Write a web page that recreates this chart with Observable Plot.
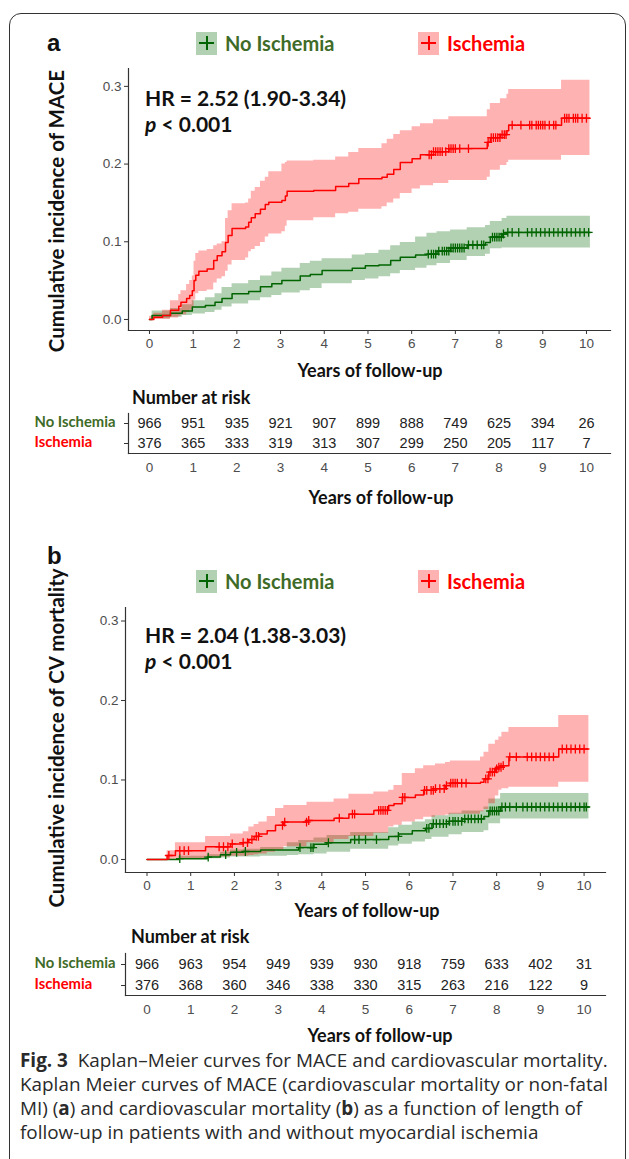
<!DOCTYPE html>
<html>
<head>
<meta charset="utf-8">
<script src="https://cdn.jsdelivr.net/npm/d3@7"></script>
<script src="https://cdn.jsdelivr.net/npm/@observablehq/plot@0.6"></script>
<style>
  html, body { margin: 0; padding: 0; background: #fff; }
  body { width: 629px; height: 1159px; position: relative; overflow: hidden; font-family: "Liberation Sans", Arial, sans-serif; }
  .frame { position: absolute; left: 9px; top: 13px; width: 617px; height: 1200px; border: 1.4px solid #333; border-radius: 12px; box-sizing: border-box; }
  .panel { position: absolute; font: 700 24px "Liberation Sans", Arial, sans-serif; color: #111; transform: translateY(-50%); }
  .ylab { position: absolute; font: 700 20.5px Lato, "Open Sans", sans-serif; color: #111; transform: translate(-50%, -50%) rotate(-90deg); white-space: nowrap; }
  .xlab { position: absolute; font: 700 18px Lato, "Open Sans", sans-serif; color: #111; transform: translate(-50%, -50%); white-space: nowrap; }
  .leg { position: absolute; transform: translateY(-50%); display: flex; align-items: center; font: 700 20px Lato, "Open Sans", sans-serif; white-space: nowrap; }
  .leg .key { width: 21px; height: 23px; position: relative; margin-right: 8px; }
  .hr { position: absolute; font: 700 21px Lato, "Open Sans", sans-serif; color: #111; transform: translateY(-50%); white-space: nowrap; }
  .risk { position: absolute; font: 700 18px Lato, "Open Sans", sans-serif; color: #111; transform: translateY(-50%); white-space: nowrap; }
  .caption { position: absolute; left: 20px; font: 400 18.9px "Open Sans", "Noto Sans", sans-serif; color: #2a2a2a; line-height: 22px; white-space: nowrap; transform: translateY(-50%); }
  svg { position: absolute; left: 0; }
</style>
</head>
<body>
<div class="frame"></div>
<div id="root"></div>
<script>
// ---------------- DATA ----------------
const groups = ["No Ischemia", "Ischemia"];
const groupColors = ["#006400", "#ff0000"];
const groupTextColors = ["#3f6b28", "#ff0000"];
const xTicks = [0, 1, 2, 3, 4, 5, 6, 7, 8, 9, 10];
const yTicks = [0, 0.1, 0.2, 0.3];

// Panel a: MACE
const maceIschTime = [0, 0.1, 0.3, 0.48, 0.67, 0.72, 0.85, 0.92, 0.98, 1.02, 1.06, 1.13, 1.32, 1.47, 1.55, 1.66, 1.74, 1.80, 1.89, 2.2, 2.27, 2.33, 2.42, 2.54, 2.65, 2.73, 3.03, 3.11, 3.15, 3.76, 4.26, 4.56, 4.79, 5.32, 5.44, 5.59, 5.74, 6.01, 6.2, 6.5, 6.85, 7.73, 7.8, 8.03, 8.18, 8.22, 9.43, 10.08];
const maceIschEst  = [0, 0.003, 0.005, 0.012, 0.017, 0.022, 0.027, 0.031, 0.037, 0.050, 0.057, 0.062, 0.065, 0.076, 0.082, 0.087, 0.099, 0.108, 0.117, 0.119, 0.125, 0.131, 0.136, 0.142, 0.148, 0.151, 0.153, 0.159, 0.165, 0.166, 0.171, 0.175, 0.181, 0.183, 0.187, 0.193, 0.202, 0.207, 0.212, 0.216, 0.220, 0.228, 0.234, 0.238, 0.243, 0.250, 0.259, 0.259];
const maceIschLow  = [0, 0, 0, 0.002, 0.004, 0.006, 0.009, 0.012, 0.015, 0.025, 0.033, 0.036, 0.038, 0.047, 0.052, 0.055, 0.062, 0.070, 0.076, 0.079, 0.087, 0.090, 0.094, 0.099, 0.106, 0.110, 0.113, 0.120, 0.127, 0.131, 0.136, 0.138, 0.142, 0.145, 0.150, 0.155, 0.162, 0.168, 0.172, 0.175, 0.179, 0.183, 0.192, 0.198, 0.202, 0.205, 0.211, 0.211];
const maceIschHigh = [0.004, 0.008, 0.012, 0.024, 0.032, 0.037, 0.045, 0.050, 0.056, 0.075, 0.085, 0.088, 0.090, 0.095, 0.097, 0.100, 0.130, 0.140, 0.149, 0.150, 0.155, 0.165, 0.170, 0.178, 0.183, 0.190, 0.200, 0.202, 0.204, 0.205, 0.209, 0.215, 0.220, 0.226, 0.232, 0.238, 0.243, 0.248, 0.252, 0.257, 0.261, 0.270, 0.278, 0.284, 0.290, 0.296, 0.308, 0.308];
const maceIschCens = [6.4, 6.45, 6.5, 6.55, 6.6, 6.65, 6.7, 6.78, 6.85, 6.9, 6.95, 7.0, 7.1, 7.3, 7.75, 7.82, 7.87, 7.92, 7.97, 8.02, 8.07, 8.12, 8.16, 8.3, 8.5, 8.7, 8.75, 8.85, 8.9, 8.95, 9.0, 9.05, 9.15, 9.25, 9.3, 9.5, 9.55, 9.6, 9.7, 9.75, 9.8, 9.9, 10.0];

const maceNoTime = [0, 0.06, 0.48, 0.75, 0.98, 1.28, 1.5, 1.66, 1.89, 2.27, 2.54, 2.8, 3.03, 3.45, 3.68, 3.95, 4.64, 4.94, 5.25, 5.52, 5.74, 6.09, 6.35, 6.58, 6.89, 7.27, 7.69, 7.8, 8.07, 8.18, 10.09];
const maceNoEst  = [0, 0.005, 0.008, 0.011, 0.016, 0.018, 0.022, 0.027, 0.033, 0.036, 0.042, 0.046, 0.050, 0.056, 0.058, 0.063, 0.066, 0.069, 0.070, 0.076, 0.080, 0.083, 0.084, 0.088, 0.092, 0.096, 0.099, 0.106, 0.110, 0.112, 0.112];
const maceNoLow  = [0, 0.001, 0.003, 0.005, 0.007, 0.009, 0.012, 0.016, 0.020, 0.024, 0.028, 0.031, 0.034, 0.037, 0.040, 0.046, 0.050, 0.052, 0.055, 0.059, 0.063, 0.066, 0.069, 0.072, 0.076, 0.081, 0.084, 0.091, 0.092, 0.092, 0.092];
const maceNoHigh = [0, 0.011, 0.014, 0.019, 0.024, 0.028, 0.033, 0.041, 0.046, 0.050, 0.056, 0.061, 0.066, 0.072, 0.075, 0.078, 0.083, 0.085, 0.089, 0.095, 0.099, 0.106, 0.111, 0.113, 0.115, 0.118, 0.121, 0.126, 0.130, 0.133, 0.133];
const maceNoCens = [6.38, 6.45, 6.5, 6.55, 6.62, 6.7, 6.75, 6.8, 6.85, 6.9, 6.95, 7.0, 7.05, 7.1, 7.15, 7.2, 7.3, 7.4, 7.5, 7.6, 7.65, 7.85, 7.9, 7.95, 8.0, 8.05, 8.1, 8.2, 8.3, 8.45, 8.65, 8.75, 8.85, 8.95, 9.05, 9.15, 9.25, 9.35, 9.45, 9.55, 9.65, 9.75, 9.85, 9.95, 10.05];

// Panel b: CV mortality
const cvIschTime = [0, 0.46, 0.65, 1.34, 1.91, 2.2, 2.33, 2.45, 2.56, 2.75, 2.94, 3.13, 3.66, 4.28, 4.62, 5.19, 5.53, 5.65, 5.84, 6.14, 6.33, 6.6, 6.83, 6.94, 7.63, 7.71, 7.82, 7.97, 8.05, 8.12, 8.28, 9.42, 10.11];
const cvIschEst  = [0, 0.005, 0.011, 0.016, 0.0195, 0.0212, 0.025, 0.029, 0.032, 0.036, 0.043, 0.047, 0.049, 0.052, 0.057, 0.0617, 0.068, 0.070, 0.078, 0.081, 0.087, 0.089, 0.093, 0.096, 0.097, 0.1015, 0.110, 0.114, 0.116, 0.118, 0.129, 0.139, 0.139];
const cvIschLow  = [0, 0, 0.001, 0.003, 0.004, 0.004, 0.005, 0.006, 0.007, 0.009, 0.012, 0.016, 0.021, 0.025, 0.029, 0.033, 0.041, 0.043, 0.047, 0.050, 0.053, 0.055, 0.056, 0.057, 0.060, 0.063, 0.070, 0.080, 0.087, 0.089, 0.091, 0.097, 0.097];
const cvIschHigh = [0, 0.011, 0.021, 0.029, 0.032, 0.035, 0.041, 0.044, 0.047, 0.054, 0.064, 0.068, 0.072, 0.076, 0.082, 0.085, 0.087, 0.093, 0.108, 0.114, 0.118, 0.120, 0.122, 0.124, 0.129, 0.135, 0.145, 0.150, 0.154, 0.160, 0.166, 0.181, 0.181];
const cvIschCens = [0.5, 0.75, 0.85, 0.95, 1.65, 1.75, 1.85, 1.95, 2.2, 2.3, 2.4, 2.5, 2.55, 3.1, 3.15, 3.65, 3.7, 4.4, 4.7, 4.75, 5.3, 5.35, 5.4, 5.45, 5.5, 5.85, 5.9, 6.35, 6.4, 6.5, 6.55, 6.6, 6.7, 6.8, 6.85, 6.95, 7.0, 7.05, 7.1, 7.2, 7.3, 7.75, 7.8, 7.85, 7.9, 7.95, 8.0, 8.05, 8.1, 8.15, 8.3, 8.45, 8.7, 8.8, 8.9, 9.0, 9.1, 9.2, 9.3, 9.5, 9.6, 9.7, 9.8, 9.9, 10.0];

const cvNoTime = [0, 0.73, 1.38, 1.68, 1.91, 2.2, 2.6, 3.21, 3.47, 3.82, 4.12, 4.66, 5.53, 5.76, 6.07, 6.37, 6.52, 6.91, 7.21, 7.71, 7.82, 8.09, 10.11];
const cvNoEst  = [0, 0.001, 0.003, 0.006, 0.009, 0.010, 0.012, 0.012, 0.015, 0.019, 0.021, 0.025, 0.029, 0.032, 0.036, 0.039, 0.045, 0.048, 0.051, 0.054, 0.061, 0.066, 0.066];
const cvNoLow  = [0, 0, 0.001, 0.002, 0.003, 0.003, 0.004, 0.005, 0.006, 0.007, 0.009, 0.013, 0.017, 0.019, 0.022, 0.025, 0.028, 0.031, 0.034, 0.036, 0.045, 0.051, 0.051];
const cvNoHigh = [0, 0.004, 0.006, 0.009, 0.012, 0.013, 0.015, 0.021, 0.024, 0.027, 0.030, 0.034, 0.040, 0.043, 0.047, 0.050, 0.055, 0.058, 0.061, 0.066, 0.076, 0.083, 0.083];
const cvNoCens = [0.75, 1.4, 1.8, 2.05, 2.25, 3.5, 3.75, 3.8, 4.15, 4.75, 4.85, 5.0, 5.25, 5.75, 6.4, 6.45, 6.55, 6.62, 6.7, 6.78, 6.85, 6.92, 7.0, 7.05, 7.12, 7.2, 7.27, 7.35, 7.42, 7.5, 7.58, 7.65, 7.85, 7.9, 7.95, 8.0, 8.05, 8.12, 8.2, 8.3, 8.45, 8.6, 8.7, 8.8, 8.9, 9.0, 9.1, 9.2, 9.3, 9.4, 9.5, 9.6, 9.7, 9.8, 9.9, 10.0, 10.05];

// Number at risk
const riskYears = [0, 1, 2, 3, 4, 5, 6, 7, 8, 9, 10];
const maceRiskNo   = [966, 951, 935, 921, 907, 899, 888, 749, 625, 394, 26];
const maceRiskIsch = [376, 365, 333, 319, 313, 307, 299, 250, 205, 117, 7];
const cvRiskNo     = [966, 963, 954, 949, 939, 930, 918, 759, 633, 402, 31];
const cvRiskIsch   = [376, 368, 360, 346, 338, 330, 315, 263, 216, 122, 9];

// Caption lines
const captionLines = [
  "<b>Fig. 3</b>&nbsp; Kaplan–Meier curves for MACE and cardiovascular mortality.",
  "Kaplan Meier curves of MACE (cardiovascular mortality or non-fatal",
  "MI) (<b>a</b>) and cardiovascular mortality (<b>b</b>) as a function of length of",
  "follow-up in patients with and without myocardial ischemia"
];

// ---------------- HELPERS ----------------
const root = document.getElementById("root");
function el(cls, html, styles) {
  const d = document.createElement("div");
  d.className = cls;
  d.innerHTML = html;
  Object.assign(d.style, styles || {});
  document.body.appendChild(d);
  return d;
}
const plusSymbol = {
  draw(ctx, size) {
    const r = Math.sqrt(size / Math.PI);
    ctx.moveTo(-r, 0); ctx.lineTo(r, 0);
    ctx.moveTo(0, -r * 1.1); ctx.lineTo(0, r * 1.1);
  }
};
function rows(time, est, lo, hi) {
  return time.map((t, i) => ({t, est: est[i], lo: lo[i], hi: hi[i]}));
}
function censRows(cens, time, est) {
  return cens.map(t => ({t, est: est[Math.max(0, d3.bisectRight(time, t) - 1)]}));
}
const tickFont = {fontSize: 13.5, fontFamily: "'Liberation Sans', Arial, sans-serif"};

function kmPlot(cfg) {
  const noData = rows(...cfg.no), ischData = rows(...cfg.isch);
  const noC = censRows(cfg.noCens, cfg.no[0], cfg.no[1]);
  const ischC = censRows(cfg.ischCens, cfg.isch[0], cfg.isch[1]);
  const svg = Plot.plot({
    width: 629, height: cfg.height,
    marginLeft: cfg.left, marginRight: 629 - cfg.right, marginTop: cfg.marginTop, marginBottom: 30,
    style: {background: "transparent", color: "#4d4d4d", fontFamily: tickFont.fontFamily, fontSize: "13.5px"},
    x: {domain: cfg.xDomain, label: null},
    y: {domain: cfg.yDomain, label: null},
    marks: [
      Plot.areaY(noData, {x: "t", y1: "lo", y2: "hi", curve: "step-after", fill: groupColors[0], fillOpacity: 0.3}),
      Plot.areaY(ischData, {x: "t", y1: "lo", y2: "hi", curve: "step-after", fill: groupColors[1], fillOpacity: 0.3}),
      Plot.line(noData, {x: "t", y: "est", curve: "step-after", stroke: groupColors[0], strokeWidth: 1.5}),
      Plot.dot(noC, {x: "t", y: "est", symbol: plusSymbol, r: 4, stroke: groupColors[0], strokeWidth: 1.3, fill: "none"}),
      Plot.line(ischData, {x: "t", y: "est", curve: "step-after", stroke: groupColors[1], strokeWidth: 1.5}),
      Plot.dot(ischC, {x: "t", y: "est", symbol: plusSymbol, r: 4, stroke: groupColors[1], strokeWidth: 1.3, fill: "none"}),
      Plot.axisX({ticks: xTicks, tickFormat: d => String(d), tickSize: 4, tickPadding: 4, stroke: "#333", fill: "#4d4d4d", ...tickFont}),
      Plot.axisY({ticks: yTicks, tickFormat: d3.format(".1f"), tickSize: 4, tickPadding: 3, stroke: "#333", fill: "#4d4d4d", ...tickFont}),
      Plot.frame({anchor: "left", stroke: "#333", strokeWidth: 1.2}),
      Plot.frame({anchor: "bottom", stroke: "#333", strokeWidth: 1.2})
    ]
  });
  svg.style.top = cfg.top + "px";
  root.appendChild(svg);
}

function riskPlot(cfg) {
  const data = [];
  riskYears.forEach((yr, i) => {
    data.push({t: yr, g: groups[0], n: cfg.no[i]});
    data.push({t: yr, g: groups[1], n: cfg.isch[i]});
  });
  const svg = Plot.plot({
    width: 629, height: cfg.height,
    marginLeft: cfg.left, marginRight: 629 - cfg.right, marginTop: cfg.marginTop, marginBottom: 28,
    style: {background: "transparent", color: "#4d4d4d", fontFamily: tickFont.fontFamily, fontSize: "13.5px", overflow: "visible"},
    x: {domain: cfg.xDomain, label: null},
    y: {type: "point", domain: groups, label: null, padding: 0.5},
    marks: [
      Plot.text(data, {x: "t", y: "g", text: "n", fill: "#222", fontSize: 14.5, fontFamily: "'Liberation Sans', Arial, sans-serif"}),
      Plot.text(groups, {y: d => d, text: d => d, frameAnchor: "left", textAnchor: "start", dx: 34 - cfg.left, dy: -1,
        fill: d => groupTextColors[groups.indexOf(d)], fontSize: 14.8, fontWeight: 700, fontFamily: "Lato, 'Open Sans', sans-serif"}),
      Plot.axisX({ticks: xTicks, tickFormat: d => String(d), tickSize: 0, tickPadding: 9, fill: "#4d4d4d", ...tickFont}),
      Plot.axisY({ticks: groups, tickFormat: () => "", tickSize: 4, stroke: "#333"}),
      Plot.frame({anchor: "left", stroke: "#333", strokeWidth: 1.2}),
      Plot.frame({anchor: "bottom", stroke: "#333", strokeWidth: 1.2})
    ]
  });
  svg.style.top = cfg.top + "px";
  root.appendChild(svg);
}

function legend(y) {
  [{x: 196, i: 0}, {x: 418, i: 1}].forEach(({x, i}) => {
    const c = groupColors[i];
    const fill = i === 0 ? "rgba(0,100,0,0.3)" : "rgba(255,0,0,0.3)";
    el("leg", `<div class="key" style="background:${fill}">
        <div style="position:absolute;left:3px;right:3px;top:10px;height:2px;background:${c}"></div>
        <div style="position:absolute;left:10px;width:2px;top:4px;bottom:5px;background:${c}"></div>
      </div><span style="color:${groupTextColors[i]}">${groups[i]}</span>`, {left: x + "px", top: y + "px"});
  });
}

// ---------------- PANEL A ----------------
el("panel", "a", {left: "47px", top: "43px"});
legend(43);
el("ylab", "Cumulative incidence of MACE", {left: "56px", top: "211px"});
el("hr", "HR = 2.52 (1.90-3.34)", {left: "145px", top: "97px"});
el("hr", "<i>p</i> &lt; 0.001", {left: "145px", top: "123px"});
kmPlot({
  top: 60, height: 300, marginTop: 8, left: 128, right: 610,
  xDomain: [-0.48, 10.55], yDomain: [-0.0142, 0.323],
  no: [maceNoTime, maceNoEst, maceNoLow, maceNoHigh],
  isch: [maceIschTime, maceIschEst, maceIschLow, maceIschHigh],
  noCens: maceNoCens, ischCens: maceIschCens
});
el("xlab", "Years of follow-up", {left: "370px", top: "370px"});

el("risk", "Number at risk", {left: "132px", top: "397px"});
riskPlot({top: 405, height: 76, marginTop: 8, left: 128, right: 610, xDomain: [-0.48, 10.55], no: maceRiskNo, isch: maceRiskIsch});
el("xlab", "Years of follow-up", {left: "381px", top: "497px"});

// ---------------- PANEL B ----------------
el("panel", "b", {left: "47px", top: "556px"});
legend(581);
el("ylab", "Cumulative incidence of CV mortality", {left: "56px", top: "738px"});
el("hr", "HR = 2.04 (1.38-3.03)", {left: "145px", top: "634px"});
el("hr", "<i>p</i> &lt; 0.001", {left: "145px", top: "660px"});
kmPlot({
  top: 600, height: 302, marginTop: 7, left: 125, right: 605,
  xDomain: [-0.492, 10.49], yDomain: [-0.0164, 0.317],
  no: [cvNoTime, cvNoEst, cvNoLow, cvNoHigh],
  isch: [cvIschTime, cvIschEst, cvIschLow, cvIschHigh],
  noCens: cvNoCens, ischCens: cvIschCens
});
el("xlab", "Years of follow-up", {left: "367px", top: "910px"});

el("risk", "Number at risk", {left: "131px", top: "936px"});
riskPlot({top: 945, height: 78, marginTop: 8, left: 125, right: 605, xDomain: [-0.492, 10.49], no: cvRiskNo, isch: cvRiskIsch});
el("xlab", "Years of follow-up", {left: "380px", top: "1035px"});

// ---------------- CAPTION ----------------
captionLines.forEach((line, i) => el("caption", line, {top: (1060 + 24 * i) + "px"}));
</script>
</body>
</html>
